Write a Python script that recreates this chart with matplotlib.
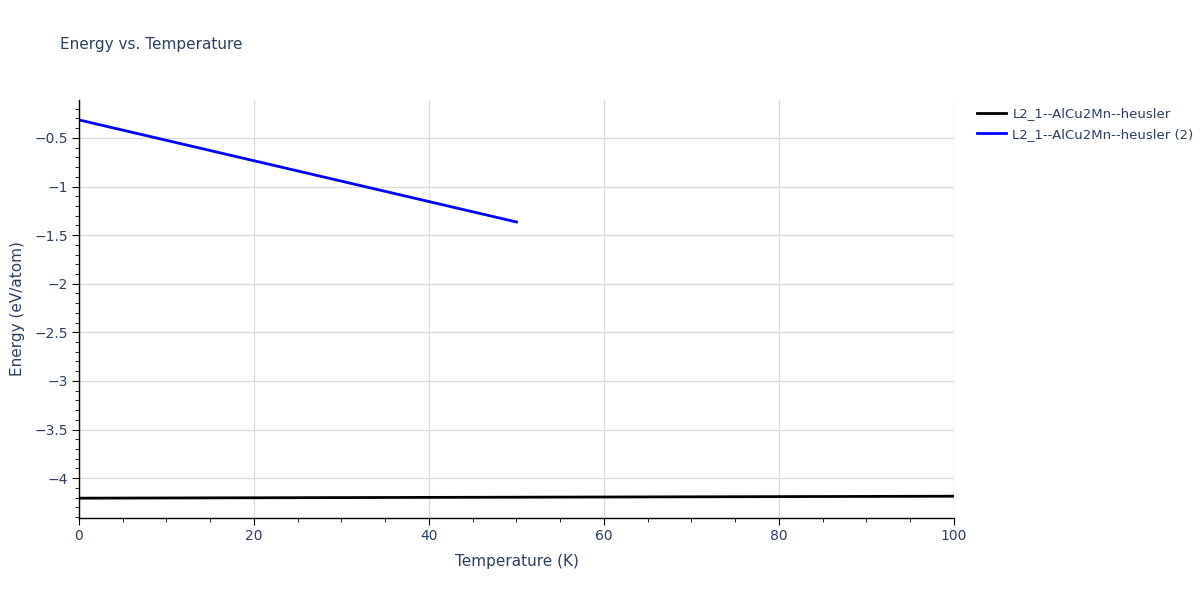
import matplotlib.pyplot as plt
import numpy as np
from matplotlib.ticker import MultipleLocator, FuncFormatter

# Data

temp1 = [0, 20, 40, 60, 80, 100]
energy1 = [-4.206, -4.202, -4.198, -4.194, -4.190, -4.186]

temp2 = [0, 10, 20, 30, 40, 50]
energy2 = [-0.315, -0.525, -0.735, -0.945, -1.155, -1.365]

label1 = "L2_1--AlCu2Mn--heusler"
label2 = "L2_1--AlCu2Mn--heusler (2)"

text_color = "#2a3f5f"
grid_color = "#dcdcdc"

fig = plt.figure(figsize=(12, 6), dpi=100)
ax = fig.add_axes([79 / 1200, 82 / 600, 875 / 1200, 418 / 600])

ax.plot(temp1, energy1, color="black", lw=2, label=label1)
ax.plot(temp2, energy2, color="blue", lw=2, label=label2)

ax.set_xlim(0, 100)
ax.set_ylim(-4.41, -0.11)

ax.xaxis.set_major_locator(MultipleLocator(20))
ax.xaxis.set_minor_locator(MultipleLocator(5))
ax.yaxis.set_major_locator(MultipleLocator(0.5))
ax.yaxis.set_minor_locator(MultipleLocator(0.1))


def fmt(v, pos):
    s = f"{v:g}"
    return s.replace("-", "\u2212")


ax.yaxis.set_major_formatter(FuncFormatter(fmt))

ax.grid(True, which="major", color=grid_color, lw=1)
ax.set_axisbelow(True)

for side in ["top", "right"]:
    ax.spines[side].set_visible(False)
for side in ["left", "bottom"]:
    ax.spines[side].set_color("black")
    ax.spines[side].set_linewidth(1)

ax.tick_params(which="major", direction="out", length=5, color="black",
               labelsize=10, labelcolor=text_color, pad=3)
ax.tick_params(which="minor", direction="out", length=3, color="black")

ax.set_xlabel("Temperature (K)", fontsize=11, color=text_color, labelpad=8)
ax.set_ylabel("Energy (eV/atom)", fontsize=11, color=text_color, labelpad=7)

fig.text(60 / 1200, 1 - 45 / 600, "Energy vs. Temperature", fontsize=11,
         color=text_color, va="center", ha="left")

ax.legend(loc="upper left", bbox_to_anchor=(1.02, 0.995), frameon=False,
          fontsize=9.5, labelcolor=text_color, handlelength=2.2,
          handletextpad=0.5, borderaxespad=0, labelspacing=0.55)

plt.savefig("out.png", dpi=100)
